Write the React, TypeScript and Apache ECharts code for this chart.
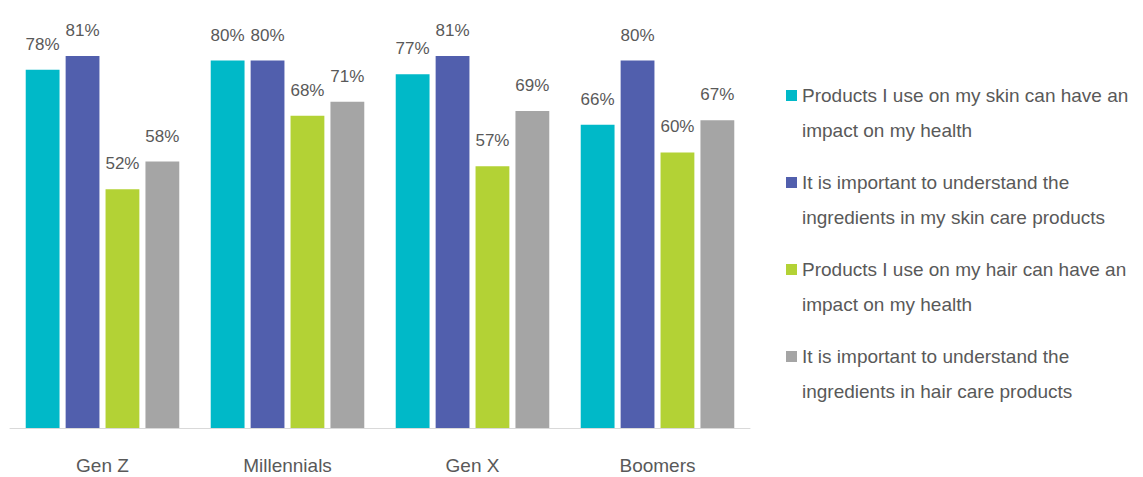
import React, { useEffect, useRef } from "react";
import * as echarts from "echarts";

const categories = ["Gen Z", "Millennials", "Gen X", "Boomers"];
const seriesNames = [
  "Products I use on my skin can have an impact on my health",
  "It is important to understand the ingredients in my skin care products",
  "Products I use on my hair can have an impact on my health",
  "It is important to understand the ingredients in hair care products",
];
const legendLines: string[][] = [
  ["Products I use on my skin can have an", "impact on my health"],
  ["It is important to understand the", "ingredients in my skin care products"],
  ["Products I use on my hair can have an", "impact on my health"],
  ["It is important to understand the", "ingredients in hair care products"],
];
const skinImpact = [78, 80, 77, 66];
const skinIngredients = [81, 80, 81, 80];
const hairImpact = [52, 68, 57, 60];
const hairIngredients = [58, 71, 69, 67];
const seriesValues = [skinImpact, skinIngredients, hairImpact, hairIngredients];
const colors = ["#00B9C8", "#515FAD", "#B3D235", "#A5A5A5"];

const FONT = "'Liberation Sans', Arial, sans-serif";
const TEXT = "#595959";

export default function App() {
  const ref = useRef<HTMLDivElement>(null);
  useEffect(() => {
    if (!ref.current) return;
    const chart = echarts.init(ref.current, undefined, { renderer: "svg" });
    chart.setOption({
      animation: false,
      textStyle: { fontFamily: FONT },
      grid: { left: 10, right: 393, top: 10, bottom: 49, containLabel: false },
      xAxis: {
        type: "category",
        data: categories,
        axisLine: { show: true, lineStyle: { color: "#D9D9D9", width: 1 } },
        axisTick: { show: false },
        axisLabel: { color: TEXT, fontSize: 19, margin: 28, fontFamily: FONT },
      },
      yAxis: {
        type: "value",
        min: 0,
        max: 91,
        show: false,
        splitLine: { show: false },
      },
      legend: {
        orient: "vertical",
        left: 781,
        top: 38,
        itemWidth: 11,
        itemHeight: 11,
        itemGap: -18,
        icon: "rect",
        data: seriesNames,
        formatter: (name: string) => {
          const i = seriesNames.indexOf(name);
          return "\u00A0\n" + legendLines[i].join("\n");
        },
        textStyle: {
          color: TEXT,
          fontSize: 19,
          lineHeight: 35,
          fontFamily: FONT,
        },
      },
      series: seriesNames.map((name, i) => ({
        name,
        type: "bar",
        data: seriesValues[i],
        barGap: "18%",
        barCategoryGap: "17%",
        itemStyle: { color: colors[i] },
        label: {
          show: true,
          position: "top",
          distance: 17,
          formatter: "{c}%",
          color: TEXT,
          fontSize: 17,
          fontFamily: FONT,
        },
      })),
    });
    return () => chart.dispose();
  }, []);
  return (
    <div
      ref={ref}
      style={{ position: "fixed", left: 0, top: 0, width: 1143, height: 477, background: "#fff" }}
    />
  );
}
